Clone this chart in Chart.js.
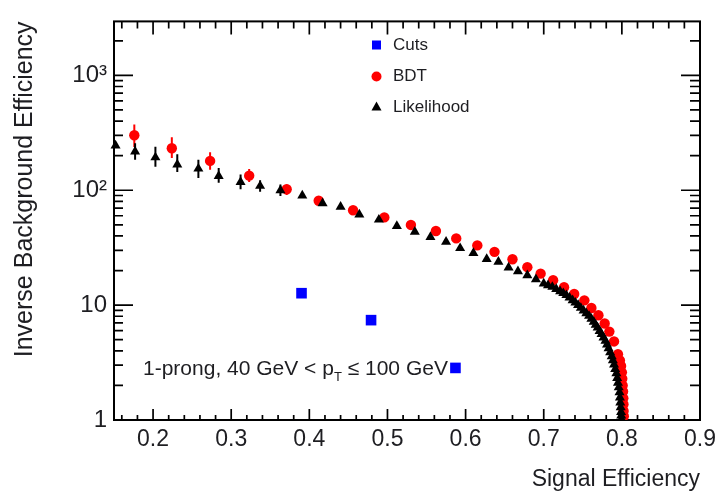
<!DOCTYPE html>
<html>
<head>
<meta charset="utf-8">
<script src="https://cdn.jsdelivr.net/npm/chart.js@4.4.0/dist/chart.umd.min.js"></script>
<style>
  html, body { margin: 0; padding: 0; background: #fff; }
  #wrap { width: 722px; height: 494px; }
</style>
</head>
<body>
<div id="wrap"><canvas id="effChart" width="722" height="494"></canvas></div>
<script>
// Rejection curves: signal efficiency vs inverse background efficiency
const X_MIN = 0.15, X_MAX = 0.9;
const Y_MIN = 1, Y_MAX = 2950;

const X_TICKS = [0.2, 0.3, 0.4, 0.5, 0.6, 0.7, 0.8, 0.9];
const X_TICK_LABELS = ["0.2", "0.3", "0.4", "0.5", "0.6", "0.7", "0.8", "0.9"];
const Y_TICKS = [1, 10, 100, 1000];
const Y_TICK_LABELS = ["1", "10", "10\u00B2", "10\u00B3"];

const CUTS_X = [0.390, 0.479, 0.587];
const CUTS_Y = [12.7, 7.4, 2.84];

const BDT_X = [0.176, 0.224, 0.273, 0.323, 0.371, 0.412, 0.456, 0.496, 0.530, 0.562,
               0.588, 0.615, 0.637, 0.660, 0.679, 0.696, 0.712, 0.726, 0.739, 0.752,
               0.761, 0.770, 0.778, 0.784, 0.790, 0.795, 0.7975, 0.799, 0.800, 0.8005,
               0.801, 0.8015, 0.8018, 0.802, 0.8022, 0.8025];
const BDT_Y = [301, 232, 180, 134, 102, 81.0, 67.0, 58.0, 49.9, 44.2,
               38.1, 33.1, 29.1, 25.1, 21.4, 18.8, 16.5, 14.3, 12.5, 11.0,
               9.43, 8.17, 6.92, 5.88, 4.83, 3.74, 3.30, 2.95, 2.60, 2.29,
               2.00, 1.77, 1.55, 1.37, 1.20, 1.08];
const BDT_LO = [238, 191, 151, 118, 91];
const BDT_HI = [374, 290, 214, 153, 112];

const LIK_X = [0.152, 0.177, 0.203, 0.231, 0.258, 0.284, 0.312, 0.337, 0.363, 0.391,
               0.417, 0.440, 0.464, 0.489, 0.512, 0.535, 0.555, 0.575, 0.593, 0.610,
               0.627, 0.642, 0.655, 0.667, 0.679, 0.690, 0.700, 0.7055, 0.711, 0.716,
               0.721, 0.725, 0.729, 0.733, 0.737, 0.7405, 0.744, 0.7475, 0.751, 0.7545,
               0.758, 0.761, 0.764, 0.7665, 0.769, 0.7715, 0.774, 0.7765, 0.779, 0.781,
               0.783, 0.785, 0.787, 0.7885, 0.790, 0.7915, 0.793, 0.794, 0.795, 0.796,
               0.797, 0.7975, 0.798, 0.7985, 0.799, 0.7992, 0.7995];
const LIK_Y = [245, 217, 193, 167, 154, 133, 118, 109, 100, 89.8,
               76.9, 71.6, 61.5, 55.4, 48.7, 43.5, 39.1, 35.5, 31.3, 28.4,
               25.2, 23.8, 21.2, 19.7, 18.2, 16.8, 15.4, 14.9, 14.4, 13.8,
               13.2, 12.7, 12.2, 11.6, 11.0, 10.5, 10.0, 9.45, 8.97, 8.50,
               8.05, 7.60, 7.16, 6.75, 6.36, 5.95, 5.60, 5.22, 4.88, 4.53,
               4.21, 3.89, 3.59, 3.31, 3.04, 2.78, 2.55, 2.32, 2.11, 1.92,
               1.74, 1.57, 1.42, 1.29, 1.17, 1.09, 1.02];
const LIK_LO = [null, 184, 160, 144, 128, 116, 102, 97, 89];
const LIK_HI = [null, 257, 239, 206, 184, 156, 137, 122, 112];

const LEGEND = [
  { label: "Cuts", shape: "rect", color: "#0000ff" },
  { label: "BDT", shape: "circle", color: "#ff0000" },
  { label: "Likelihood", shape: "triangle", color: "#000000" }
];

const FONT = "'Liberation Sans', Arial, sans-serif";
const TEXT_COLOR = "#1e1e22";

const toPoints = (xs, ys) => xs.map((x, i) => ({ x: x, y: ys[i] }));

// minor tick positions
const xMinor = [];
for (let i = 8; i <= 45; i++) {
  const v = i * 0.02;
  if (Math.abs(v * 10 - Math.round(v * 10)) > 1e-6) xMinor.push(v);
}
const yMinor = [];
for (let d = 0; d <= 3; d++) {
  for (let m = 2; m <= 9; m++) {
    const v = m * Math.pow(10, d);
    if (v <= Y_MAX) yMinor.push(v);
  }
}

// vertical error bars, drawn under each dataset's markers
const errorBars = {
  id: "errorBars",
  beforeDatasetDraw(chart, args) {
    const ds = chart.data.datasets[args.index];
    if (!ds.errLo) return;
    const { ctx, scales: { x, y } } = chart;
    ctx.save();
    ctx.strokeStyle = ds.backgroundColor;
    ctx.lineWidth = 2;
    ctx.beginPath();
    ds.errLo.forEach((lo, i) => {
      if (lo == null) return;
      const px = x.getPixelForValue(ds.data[i].x);
      ctx.moveTo(px, y.getPixelForValue(lo));
      ctx.lineTo(px, y.getPixelForValue(ds.errHi[i]));
    });
    ctx.stroke();
    ctx.restore();
  }
};

// frame with inward ticks on all four sides, plus the caption
const frame = {
  id: "frame",
  beforeDatasetsDraw(chart) {
    const { ctx, chartArea: a, scales: { x, y } } = chart;
    ctx.save();
    ctx.strokeStyle = "#000";
    ctx.lineWidth = 1.7;
    ctx.beginPath();
    const xt = (vals, bot, top) => vals.forEach(v => {
      const px = x.getPixelForValue(v);
      ctx.moveTo(px, a.bottom); ctx.lineTo(px, a.bottom - bot);
      ctx.moveTo(px, a.top); ctx.lineTo(px, a.top + top);
    });
    const yt = (vals, left, right) => vals.forEach(v => {
      const py = y.getPixelForValue(v);
      ctx.moveTo(a.left, py); ctx.lineTo(a.left + left, py);
      ctx.moveTo(a.right, py); ctx.lineTo(a.right - right, py);
    });
    xt(X_TICKS, 11, 13);
    xt(xMinor, 5, 7);
    yt(Y_TICKS, 19, 19);
    yt(yMinor, 9, 10);
    ctx.stroke();
    ctx.lineWidth = 2;
    ctx.strokeRect(a.left, a.top, a.right - a.left, a.bottom - a.top);

    // caption
    ctx.fillStyle = TEXT_COLOR;
    ctx.textBaseline = "alphabetic";
    ctx.textAlign = "left";
    let tx = 143;
    const base = 375;
    ctx.font = "21px " + FONT;
    const s1 = "1-prong, 40 GeV < p";
    ctx.fillText(s1, tx, base);
    tx += ctx.measureText(s1).width;
    ctx.font = "13px " + FONT;
    ctx.fillText("T", tx, base + 6);
    tx += ctx.measureText("T").width;
    ctx.font = "21px " + FONT;
    ctx.fillText(" \u2264 100 GeV", tx, base);
    ctx.restore();
  },
  afterDraw(chart) {
    const { ctx } = chart;
    ctx.save();
    const mx = 376.5, tx = 393;
    const rows = [45, 76.5, 107];
    LEGEND.forEach((item, i) => {
      const cy = rows[i];
      ctx.fillStyle = item.color;
      ctx.beginPath();
      if (item.shape === "rect") {
        ctx.rect(mx - 4.5, cy - 4.5, 9, 9);
      } else if (item.shape === "circle") {
        ctx.arc(mx, cy, 5, 0, Math.PI * 2);
      } else {
        ctx.moveTo(mx, cy - 5.5);
        ctx.lineTo(mx + 5, cy + 3.5);
        ctx.lineTo(mx - 5, cy + 3.5);
        ctx.closePath();
      }
      ctx.fill();
      ctx.fillStyle = TEXT_COLOR;
      ctx.font = "17px " + FONT;
      ctx.textBaseline = "middle";
      ctx.textAlign = "left";
      ctx.fillText(item.label, tx, cy);
    });
    ctx.restore();
  }
};

const noClipBottom = { left: false, top: false, right: false, bottom: 0 };

new Chart(document.getElementById("effChart"), {
  type: "scatter",
  data: {
    datasets: [
      {
        label: "Likelihood",
        data: toPoints(LIK_X, LIK_Y),
        pointStyle: "triangle",
        pointRadius: 5.8,
        backgroundColor: "#000000",
        borderColor: "#000000",
        borderWidth: 0,
        errLo: LIK_LO, errHi: LIK_HI,
        clip: noClipBottom,
        order: 0
      },
      {
        label: "BDT",
        data: toPoints(BDT_X, BDT_Y),
        pointStyle: "circle",
        pointRadius: 5.2,
        backgroundColor: "#ff0000",
        borderColor: "#ff0000",
        borderWidth: 0,
        errLo: BDT_LO, errHi: BDT_HI,
        clip: noClipBottom,
        order: 1
      },
      {
        label: "Cuts",
        data: toPoints(CUTS_X, CUTS_Y),
        pointStyle: "rect",
        pointRadius: 7.5,
        backgroundColor: "#0000ff",
        borderColor: "#0000ff",
        borderWidth: 0,
        clip: noClipBottom,
        order: 2
      }
    ]
  },
  options: {
    responsive: false,
    animation: false,
    events: [],
    layout: { padding: { top: 14, right: 22, left: 0, bottom: 0 } },
    plugins: { legend: { display: false }, tooltip: { enabled: false } },
    scales: {
      x: {
        type: "linear",
        min: X_MIN, max: X_MAX,
        grid: { display: false, drawTicks: false },
        border: { display: false },
        afterBuildTicks: s => { s.ticks = X_TICKS.map(v => ({ value: v })); },
        afterFit: s => { s.height = 74; },
        ticks: {
          autoSkip: false, maxRotation: 0, padding: 6,
          color: TEXT_COLOR,
          font: { family: FONT, size: 23 },
          callback: (v) => X_TICK_LABELS[X_TICKS.findIndex(t => Math.abs(t - v) < 1e-9)]
        },
        title: {
          display: true, text: "Signal Efficiency", align: "end",
          color: TEXT_COLOR, font: { family: FONT, size: 23 },
          padding: { top: 0, bottom: 1 }
        }
      },
      y: {
        type: "logarithmic",
        min: Y_MIN, max: Y_MAX,
        grid: { display: false, drawTicks: false },
        border: { display: false },
        afterBuildTicks: s => { s.ticks = Y_TICKS.map(v => ({ value: v })); },
        afterFit: s => { s.width = 114; },
        ticks: {
          autoSkip: false, padding: 7,
          color: TEXT_COLOR,
          font: { family: FONT, size: 24 },
          callback: (v) => Y_TICK_LABELS[Y_TICKS.indexOf(v)]
        },
        title: {
          display: true, text: "Inverse Background Efficiency", align: "end",
          color: TEXT_COLOR, font: { family: FONT, size: 25 },
          padding: { top: 10, bottom: 0 }
        }
      }
    }
  },
  plugins: [errorBars, frame]
});
</script>
</body>
</html>
